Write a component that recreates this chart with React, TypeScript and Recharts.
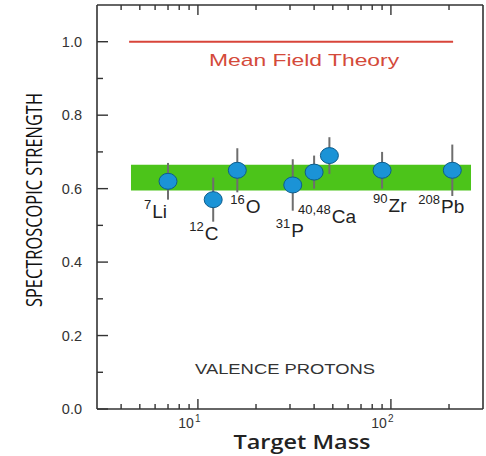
import {
  ScatterChart,
  Scatter,
  XAxis,
  YAxis,
  ErrorBar,
  ReferenceLine,
  ReferenceArea,
} from "recharts";

// spectroscopic strength of valence protons vs. target mass
const NUCLEI = ["7Li", "12C", "16O", "31P", "40Ca", "48Ca", "90Zr", "208Pb"];
const MASS = [7, 12, 16, 31, 40, 48, 90, 208];
const STRENGTH = [0.62, 0.57, 0.65, 0.61, 0.645, 0.69, 0.65, 0.65];
const ERROR = [0.05, 0.06, 0.06, 0.07, 0.045, 0.05, 0.05, 0.07];
// isotope labels: mass number (superscript) + element; 40Ca and 48Ca share one
const LABEL_SUP = ["7", "12", "16", "31", "40,48", "", "90", "208"];
const LABEL_SYM = ["Li", "C", "O", "P", "Ca", "", "Zr", "Pb"];

const X_TICKS = [4, 5, 6, 7, 8, 9, 10, 20, 30, 40, 50, 60, 70, 80, 90, 100, 200];
const Y_TICKS = [0, 0.1, 0.2, 0.3, 0.4, 0.5, 0.6, 0.7, 0.8, 0.9, 1.0];

const MEAN_FIELD = 1.0;
const MEAN_FIELD_SPAN = [4.4, 210];
const BAND = [0.595, 0.665];
const BAND_SPAN = [4.5, 260];

const data = NUCLEI.map((n, i) => ({
  name: n,
  mass: MASS[i],
  s: STRENGTH[i],
  err: ERROR[i],
  sup: LABEL_SUP[i],
  sym: LABEL_SYM[i],
}));

// label placement relative to the marker centre
const LABEL_OFFSET: Record<string, [number, number]> = {
  "7Li": [-24, 37],
  "12C": [-24, 40],
  "16O": [-7, 43],
  "31P": [-17, 52],
  "40Ca": [-16, 51],
  "90Zr": [-9, 42],
  "208Pb": [-34, 43],
};

const AXIS = "#333";
const FONT = "'Liberation Sans', Arial, sans-serif";
const TITLE_FONT = "'Open Sans', 'Noto Sans', sans-serif";

function BottomTick(props: any) {
  const { x, y, payload } = props;
  const v = payload.value;
  const major = v === 10 || v === 100;
  return (
    <g>
      <line x1={x} x2={x} y1={y} y2={y - (major ? 10 : 5)} stroke={AXIS} strokeWidth={1.4} />
      {major && (
        <g fontFamily={FONT} fill="#333">
          <text x={x - 4} y={y + 19} textAnchor="end" fontSize={14}>
            10
          </text>
          <text x={x - 3} y={y + 13} fontSize={10}>
            {v === 10 ? 1 : 2}
          </text>
        </g>
      )}
    </g>
  );
}

function TopTick(props: any) {
  const { x, y, payload } = props;
  const major = payload.value === 10 || payload.value === 100;
  return <line x1={x} x2={x} y1={y} y2={y + (major ? 10 : 5)} stroke={AXIS} strokeWidth={1.4} />;
}

function LeftTick(props: any) {
  const { x, y, payload } = props;
  const v = payload.value;
  const major = Math.round(v * 10) % 2 === 0;
  return (
    <g>
      <line x1={x} x2={x + (major ? 11 : 6)} y1={y} y2={y} stroke={AXIS} strokeWidth={1.4} />
      {major && (
        <text x={x - 15} y={y + 5} textAnchor="end" fontSize={14.5} fontFamily={FONT} fill="#333">
          {v.toFixed(1)}
        </text>
      )}
    </g>
  );
}

function RightTick(props: any) {
  const { x, y } = props;
  return <line x1={x} x2={x - 7} y1={y} y2={y} stroke={AXIS} strokeWidth={1.4} />;
}

function Nucleus(props: any) {
  const { cx, cy, payload } = props;
  const off = LABEL_OFFSET[payload.name];
  return (
    <g>
      <ellipse cx={cx} cy={cy} rx={9} ry={8} fill="#1b93d6" stroke="#0d5c8c" strokeWidth={1} />
      {off && (
        <text x={cx + off[0]} y={cy + off[1]} fontFamily={FONT} fill="#222">
          <tspan fontSize={13} dy={-9}>
            {payload.sup}
          </tspan>
          <tspan fontSize={19} dy={9} dx={1}>
            {payload.sym}
          </tspan>
        </text>
      )}
    </g>
  );
}

export default function App() {
  return (
    <div style={{ position: "absolute", left: 0, top: 0, background: "#fff" }}>
      <ScatterChart
        width={486}
        height={456}
        margin={{ top: 4, right: 2, bottom: 0, left: 0 }}
      >
        <XAxis
          dataKey="mass"
          type="number"
          scale="log"
          domain={[3, 300]}
          allowDataOverflow
          ticks={X_TICKS}
          interval={0}
          height={47}
          tickSize={0}
          tickMargin={0}
          tick={<BottomTick />}
          axisLine={{ stroke: AXIS, strokeWidth: 1.6 }}
          label={{
            content: () => (
              <text
                x={302}
                y={449}
                textAnchor="middle"
                fontSize={19}
                fontWeight={600}
                fontFamily={TITLE_FONT}
                fill="#222"
                textLength={137}
                lengthAdjust="spacingAndGlyphs"
              >
                Target Mass
              </text>
            ),
          }}
        />
        <XAxis
          xAxisId="top"
          orientation="top"
          dataKey="mass"
          type="number"
          scale="log"
          domain={[3, 300]}
          allowDataOverflow
          ticks={X_TICKS}
          interval={0}
          height={1}
          tickSize={0}
          tickMargin={0}
          tick={<TopTick />}
          axisLine={{ stroke: AXIS, strokeWidth: 1.6 }}
          label={{
            content: () => (
              <text
                x={285}
                y={374}
                textAnchor="middle"
                fontSize={15}
                fontFamily={FONT}
                fill="#333"
                textLength={180}
                lengthAdjust="spacingAndGlyphs"
              >
                VALENCE PROTONS
              </text>
            ),
          }}
        />
        <YAxis
          dataKey="s"
          type="number"
          domain={[0, 1.1]}
          ticks={Y_TICKS}
          interval={0}
          width={97}
          tickSize={0}
          tickMargin={0}
          tick={<LeftTick />}
          axisLine={{ stroke: AXIS, strokeWidth: 1.6 }}
          label={{
            content: () => (
              <text
                x={34}
                y={200}
                transform="rotate(-90 34 200)"
                textAnchor="middle"
                dominantBaseline="central"
                fontSize={21}
                fontFamily={TITLE_FONT}
                fill="#111"
                textLength={214}
                lengthAdjust="spacingAndGlyphs"
              >
                SPECTROSCOPIC STRENGTH
              </text>
            ),
          }}
        />
        <YAxis
          yAxisId="right"
          orientation="right"
          type="number"
          domain={[0, 1.1]}
          ticks={Y_TICKS}
          interval={0}
          width={1}
          tickSize={0}
          tickMargin={0}
          tick={<RightTick />}
          axisLine={{ stroke: AXIS, strokeWidth: 1.6 }}
        />
        <ReferenceArea
          x1={BAND_SPAN[0]}
          x2={BAND_SPAN[1]}
          y1={BAND[0]}
          y2={BAND[1]}
          fill="#4cc41a"
          fillOpacity={1}
          stroke="none"
        />
        <ReferenceLine
          segment={[
            { x: MEAN_FIELD_SPAN[0], y: MEAN_FIELD },
            { x: MEAN_FIELD_SPAN[1], y: MEAN_FIELD },
          ]}
          stroke="#d8453a"
          strokeWidth={1.8}
          label={{
            content: (p: any) => {
              const vb = p.viewBox || { x: 128, y: 41, width: 324 };
              return (
                <text
                  x={vb.x + vb.width / 2 + 13}
                  y={vb.y + 24}
                  textAnchor="middle"
                  fontSize={17}
                  fontFamily={FONT}
                  fill="#d44a3a"
                  textLength={190}
                  lengthAdjust="spacingAndGlyphs"
                >
                  Mean Field Theory
                </text>
              );
            },
          }}
        />
        <Scatter data={data} dataKey="s" shape={<Nucleus />} isAnimationActive={false}>
          <ErrorBar dataKey="err" direction="y" width={0} stroke="#6e6e6e" strokeWidth={2} />
        </Scatter>
      </ScatterChart>
    </div>
  );
}
